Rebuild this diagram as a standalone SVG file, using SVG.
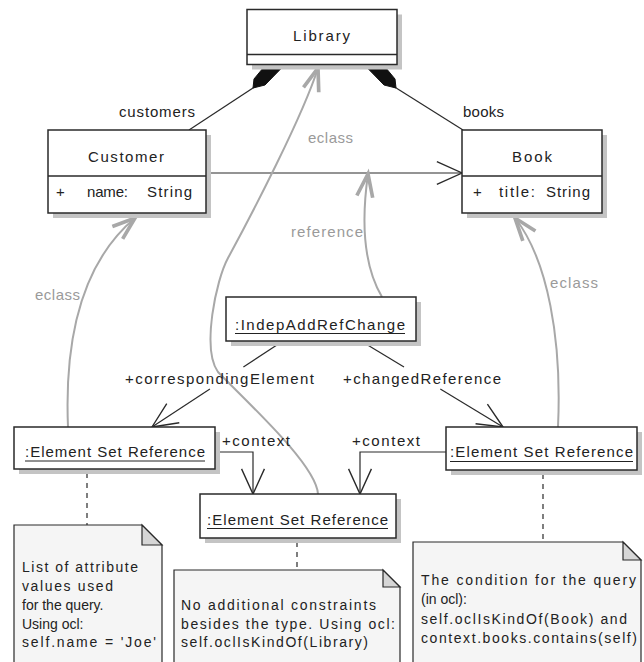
<svg xmlns="http://www.w3.org/2000/svg" width="644" height="662" viewBox="0 0 644 662">
<style>
text{font-family:"Liberation Sans",Arial,sans-serif;font-size:15px;fill:#222}
text.g{fill:#9a9a9a}
text.n{font-size:14px}
.box{fill:#fff;stroke:#2a2a2a;stroke-width:1.5}
.sh{fill:#c4c4c4}
.div{stroke:#2a2a2a;stroke-width:1.5}
.ln{fill:none;stroke:#2a2a2a;stroke-width:1.2}
.ul{stroke:#222;stroke-width:1}
.gc{fill:none;stroke:#a8a8a8;stroke-width:2}
.dash{fill:none;stroke:#2a2a2a;stroke-width:1.2;stroke-dasharray:5 5}
.note{fill:#f5f5f5;stroke:#2a2a2a;stroke-width:1.2}
.fold{fill:#d6d6d6;stroke:#2a2a2a;stroke-width:1.2}
.dia{fill:#111;stroke:#111;stroke-width:1}
</style>
<defs>
<marker id="open" markerUnits="userSpaceOnUse" markerWidth="40" markerHeight="40" refX="0" refY="0" viewBox="-30 -15 35 30" orient="auto" overflow="visible">
<path d="M -22 -10 L 0 0 L -22 10" fill="none" stroke="#2a2a2a" stroke-width="1.2"/>
</marker>
<marker id="gopen" markerUnits="userSpaceOnUse" markerWidth="40" markerHeight="40" refX="0" refY="0" viewBox="-30 -15 35 30" orient="auto" overflow="visible">
<path d="M -20 -7 L 0 0 L -20 7" fill="none" stroke="#a8a8a8" stroke-width="3.2"/>
</marker>
</defs>

<g id="connectors">
<line class="ln" x1="189" y1="130" x2="256" y2="86"/>
<polygon class="dia" points="253,88 265,85 285,64.5 266,64.5 254,79"/>
<line class="ln" x1="463" y1="130" x2="393" y2="86"/>
<polygon class="dia" points="396,88 384,85 364,64.5 383,64.5 395,79"/>
<line class="ln" x1="206" y1="173" x2="462" y2="173" marker-end="url(#open)"/>
<line class="ln" x1="283" y1="341" x2="243.4" y2="367"/>
<line class="ln" x1="209.9" y1="389" x2="152" y2="427" marker-end="url(#open)"/>
<line class="ln" x1="361" y1="341" x2="404" y2="367"/>
<line class="ln" x1="440.3" y1="389" x2="503" y2="427" marker-end="url(#open)"/>
<polyline class="ln" points="215,452 253,452 253,494" marker-end="url(#open)"/>
<polyline class="ln" points="446,452 360,452 360,494" marker-end="url(#open)"/>
<path class="gc" d="M 68 427 C 64 330, 85 260, 135 218" marker-end="url(#gopen)"/>
<path class="gc" d="M 558 427 C 562 340, 548 260, 515 218" marker-end="url(#gopen)"/>
<path class="gc" d="M 382 297 C 366 270, 360 230, 368 174" marker-end="url(#gopen)"/>
<path class="gc" d="M 318 494 C 316 465, 250 405, 218 372 C 201.5 349, 216 280, 228 258 C 252 214, 303 115.5, 318 68" marker-end="url(#gopen)"/>
<line class="dash" x1="87" y1="473" x2="87" y2="525"/>
<line class="dash" x1="297" y1="542" x2="297" y2="570"/>
<line class="dash" x1="543" y1="474" x2="543" y2="542"/>
<text x="119" y="117" textLength="76" lengthAdjust="spacing">customers</text>
<text x="463" y="117" textLength="41" lengthAdjust="spacing">books</text>
<text class="g" x="308" y="143" textLength="45" lengthAdjust="spacing">eclass</text>
<text class="g" x="291" y="237" textLength="72" lengthAdjust="spacing">reference</text>
<text class="g" x="35" y="300" textLength="45" lengthAdjust="spacing">eclass</text>
<text class="g" x="550" y="288" textLength="48" lengthAdjust="spacing">eclass</text>
<text x="125" y="384" textLength="189" lengthAdjust="spacing">+correspondingElement</text>
<text x="343" y="384" textLength="158" lengthAdjust="spacing">+changedReference</text>
<text x="222" y="446" textLength="68" lengthAdjust="spacing">+context</text>
<text x="352" y="446" textLength="68" lengthAdjust="spacing">+context</text>
</g>

<g id="library">
<rect class="sh" x="252" y="14.5" width="150" height="55"/>
<rect class="box" x="247" y="9.5" width="150" height="55"/>
<line class="div" x1="247" y1="54.5" x2="397" y2="54.5"/>
<text x="293" y="41" textLength="57" lengthAdjust="spacing">Library</text>
</g>

<g id="customer">
<rect class="sh" x="53" y="135" width="158" height="83"/>
<rect class="box" x="48" y="130" width="158" height="83"/>
<line class="div" x1="48" y1="176" x2="206" y2="176"/>
<text x="88" y="162" textLength="76" lengthAdjust="spacing">Customer</text>
<text x="56" y="197">+</text>
<text x="87" y="197" textLength="41" lengthAdjust="spacing">name:</text>
<text x="147" y="197" textLength="45" lengthAdjust="spacing">String</text>
</g>

<g id="book">
<rect class="sh" x="467" y="135" width="140" height="83"/>
<rect class="box" x="462" y="130" width="140" height="83"/>
<line class="div" x1="462" y1="176" x2="602" y2="176"/>
<text x="512" y="162" textLength="40" lengthAdjust="spacing">Book</text>
<text x="473" y="197">+</text>
<text x="499" y="197" textLength="36" lengthAdjust="spacing">title:</text>
<text x="546" y="197" textLength="44" lengthAdjust="spacing">String</text>
</g>

<g id="indepAddRefChange">
<rect class="sh" x="231" y="302" width="190" height="44"/>
<rect class="box" x="226" y="297" width="190" height="44"/>
<text x="235" y="330" textLength="170" lengthAdjust="spacing">:IndepAddRefChange</text>
<line class="ul" x1="235" y1="333.5" x2="405" y2="333.5"/>
</g>

<g id="esrLeft">
<rect class="sh" x="19" y="432" width="201" height="42"/>
<rect class="box" x="14" y="427" width="201" height="42"/>
<text x="25" y="457" textLength="180" lengthAdjust="spacing">:Element Set Reference</text>
<line class="ul" x1="25" y1="461" x2="205" y2="461"/>
</g>

<g id="esrMiddle">
<rect class="sh" x="205" y="499" width="196" height="44"/>
<rect class="box" x="200" y="494" width="196" height="44"/>
<text x="207" y="525" textLength="181" lengthAdjust="spacing">:Element Set Reference</text>
<line class="ul" x1="207" y1="528.5" x2="388" y2="528.5"/>
</g>

<g id="esrRight">
<rect class="sh" x="451" y="432" width="191" height="43"/>
<rect class="box" x="446" y="427" width="191" height="43"/>
<text x="450" y="457" textLength="183" lengthAdjust="spacing">:Element Set Reference</text>
<line class="ul" x1="450" y1="461.5" x2="633" y2="461.5"/>
</g>

<g id="noteLeft">
<path class="note" d="M 14 525 L 142 525 L 162 545 L 162 670 L 14 670 Z"/>
<path class="fold" d="M 142 525 L 142 545 L 162 545 Z"/>
<text class="n" x="22" y="572" textLength="116" lengthAdjust="spacing">List of attribute</text>
<text class="n" x="22" y="591" textLength="91" lengthAdjust="spacing">values used</text>
<text class="n" x="22" y="610">for the query.</text>
<text class="n" x="22" y="629">Using ocl:</text>
<text class="n" x="22" y="647" textLength="134" lengthAdjust="spacing">self.name = 'Joe'</text>
</g>

<g id="noteMiddle">
<path class="note" d="M 174 570 L 383 570 L 400 587 L 400 670 L 174 670 Z"/>
<path class="fold" d="M 383 570 L 383 587 L 400 587 Z"/>
<text class="n" x="181" y="610" textLength="195" lengthAdjust="spacing">No additional constraints</text>
<text class="n" x="181" y="629" textLength="214" lengthAdjust="spacing">besides the type. Using ocl:</text>
<text class="n" x="181" y="647" textLength="187" lengthAdjust="spacing">self.oclIsKindOf(Library)</text>
</g>

<g id="noteRight">
<path class="note" d="M 413 542 L 623 542 L 641 560 L 641 670 L 413 670 Z"/>
<path class="fold" d="M 623 542 L 623 560 L 641 560 Z"/>
<text class="n" x="421" y="585" textLength="215" lengthAdjust="spacing">The condition for the query</text>
<text class="n" x="421" y="604">(in ocl):</text>
<text class="n" x="421" y="624" textLength="206" lengthAdjust="spacing">self.oclIsKindOf(Book) and</text>
<text class="n" x="421" y="643" textLength="216" lengthAdjust="spacing">context.books.contains(self)</text>
</g>
</svg>
